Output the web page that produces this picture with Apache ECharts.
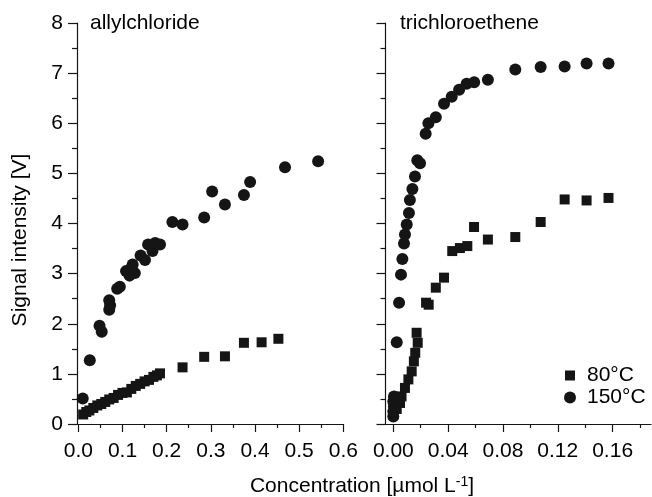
<!DOCTYPE html>
<html>
<head>
<meta charset="utf-8">
<script src="https://cdn.jsdelivr.net/npm/echarts@6/dist/echarts.min.js"></script>
<style>
  html, body { margin: 0; padding: 0; background: #fff; }
  #chart { width: 652px; height: 497px; }
</style>
</head>
<body>
<div id="chart"></div>
<script>
// allylchloride panel
var allyl80X = [0.011, 0.018, 0.025, 0.034, 0.043, 0.052, 0.061, 0.070, 0.080, 0.090, 0.100, 0.110, 0.120, 0.130, 0.140, 0.150, 0.160, 0.170, 0.178, 0.185, 0.236, 0.285, 0.332, 0.375, 0.415, 0.453];
var allyl80Y = [0.19, 0.24, 0.27, 0.32, 0.37, 0.40, 0.44, 0.49, 0.52, 0.58, 0.62, 0.63, 0.70, 0.76, 0.80, 0.85, 0.88, 0.94, 0.97, 1.01, 1.13, 1.34, 1.35, 1.62, 1.63, 1.70];
var allyl150X = [0.010, 0.026, 0.048, 0.053, 0.070, 0.072, 0.070, 0.088, 0.094, 0.108, 0.116, 0.120, 0.123, 0.128, 0.141, 0.151, 0.158, 0.168, 0.174, 0.185, 0.213, 0.236, 0.285, 0.303, 0.332, 0.375, 0.389, 0.468, 0.543];
var allyl150Y = [0.51, 1.27, 1.96, 1.84, 2.47, 2.37, 2.28, 2.70, 2.74, 3.05, 2.96, 3.10, 3.18, 3.01, 3.36, 3.27, 3.58, 3.45, 3.61, 3.58, 4.03, 3.98, 4.12, 4.64, 4.38, 4.57, 4.83, 5.12, 5.24];

// trichloroethene panel
var tce80X = [0.000, 0.0025, 0.0049, 0.006, 0.0085, 0.011, 0.0134, 0.015, 0.016, 0.0178, 0.017, 0.0239, 0.0258, 0.031, 0.037, 0.043, 0.0486, 0.054, 0.0589, 0.069, 0.089, 0.1075, 0.125, 0.141, 0.157];
var tce80Y = [0.19, 0.30, 0.42, 0.55, 0.72, 0.89, 1.05, 1.25, 1.42, 1.62, 1.82, 2.42, 2.38, 2.72, 2.92, 3.45, 3.51, 3.55, 3.93, 3.68, 3.73, 4.03, 4.48, 4.46, 4.51];
var tce150X = [0.000, 0.000, 0.0005, 0.000, 0.0005, 0.0025, 0.0042, 0.0056, 0.0066, 0.0078, 0.0085, 0.0098, 0.0114, 0.0121, 0.0139, 0.0158, 0.0175, 0.0195, 0.0236, 0.0256, 0.031, 0.037, 0.0426, 0.048, 0.0535, 0.059, 0.069, 0.089, 0.1075, 0.125, 0.141, 0.157];
var tce150Y = [0.15, 0.25, 0.35, 0.45, 0.55, 1.63, 2.42, 2.98, 3.29, 3.60, 3.78, 3.98, 4.21, 4.47, 4.69, 4.94, 5.26, 5.20, 5.79, 6.00, 6.12, 6.39, 6.53, 6.67, 6.79, 6.82, 6.87, 7.07, 7.12, 7.13, 7.19, 7.19];

// ticks
var leftMajor = [0, 0.1, 0.2, 0.3, 0.4, 0.5, 0.6];
var leftMajorLabels = ['0.0', '0.1', '0.2', '0.3', '0.4', '0.5', '0.6'];
var leftMinor = [0.05, 0.15, 0.25, 0.35, 0.45, 0.55];
var rightMajor = [0, 0.04, 0.08, 0.12, 0.16];
var rightMajorLabels = ['0.00', '0.04', '0.08', '0.12', '0.16'];
var rightMinor = [0.02, 0.06, 0.10, 0.14, 0.18];

var FONT = "'Liberation Sans', Arial, sans-serif";
var INK = '#151515';

function zip(xs, ys) {
    var out = [];
    for (var i = 0; i < xs.length; i++) out.push([xs[i], ys[i]]);
    return out;
}

function labelOf(values, labels) {
    return function (v) {
        for (var i = 0; i < values.length; i++) {
            if (Math.abs(values[i] - v) < 1e-9) return labels[i];
        }
        return '';
    };
}

var axisLineStyle = { color: INK, width: 1.2 };

function majorX(grid, min, max, ticks, labels) {
    return {
        type: 'value', gridIndex: grid, position: 'bottom', min: min, max: max,
        axisLine: { show: true, onZero: false, lineStyle: axisLineStyle },
        axisTick: { show: true, length: 8, customValues: ticks, lineStyle: axisLineStyle },
        axisLabel: {
            show: true, customValues: ticks, margin: 17,
            formatter: labelOf(ticks, labels),
            color: '#000', fontSize: 21, fontFamily: FONT
        },
        splitLine: { show: false }
    };
}

function minorX(grid, min, max, ticks) {
    return {
        type: 'value', gridIndex: grid, position: 'bottom', min: min, max: max,
        axisLine: { show: false, onZero: false },
        axisTick: { show: true, length: 4, customValues: ticks, lineStyle: axisLineStyle },
        axisLabel: { show: false },
        splitLine: { show: false }
    };
}

function yAx(grid, showLabels) {
    return {
        type: 'value', gridIndex: grid, min: 0, max: 8, interval: 1,
        axisLine: { show: true, onZero: false, lineStyle: axisLineStyle },
        axisTick: { show: true, length: 9, lineStyle: axisLineStyle },
        minorTick: { show: true, splitNumber: 2, length: 5, lineStyle: axisLineStyle },
        axisLabel: { show: showLabels, margin: 14, color: '#000', fontSize: 21, fontFamily: FONT },
        splitLine: { show: false }
    };
}

function scatter(name, xi, yi, symbol, size, data) {
    return {
        name: name, type: 'scatter', xAxisIndex: xi, yAxisIndex: yi,
        symbol: symbol, symbolSize: size,
        itemStyle: { color: INK, opacity: 1 },
        data: data
    };
}

var chart = echarts.init(document.getElementById('chart'));

var option = {
    animation: false,
    textStyle: { fontFamily: FONT },
    grid: [
        { left: 77, top: 23, width: 266.3, height: 401 },
        { left: 385.5, top: 23, width: 265.5, height: 401 }
    ],
    xAxis: [
        majorX(0, -0.003, 0.6, leftMajor, leftMajorLabels),
        minorX(0, -0.003, 0.6, leftMinor),
        majorX(1, -0.0057, 0.188, rightMajor, rightMajorLabels),
        minorX(1, -0.0057, 0.188, rightMinor)
    ],
    yAxis: [yAx(0, true), yAx(1, false)],
    legend: [
        {
            data: [{ name: '80°C', icon: 'rect' }],
            left: 565, top: 365, padding: 0, itemWidth: 10, itemHeight: 10,
            textStyle: { color: '#000', fontSize: 21, fontFamily: FONT, padding: [0, 0, 0, 7] }
        },
        {
            data: [{ name: '150°C', icon: 'circle' }],
            left: 564, top: 387, padding: 0, itemWidth: 12, itemHeight: 12,
            textStyle: { color: '#000', fontSize: 21, fontFamily: FONT, padding: [0, 0, 0, 6] }
        }
    ],
    graphic: [
        {
            type: 'text', left: 90, top: 13,
            style: { text: 'allylchloride', fill: '#000', fontSize: 21, fontFamily: FONT }
        },
        {
            type: 'text', left: 400, top: 13,
            style: { text: 'trichloroethene', fill: '#000', fontSize: 21, fontFamily: FONT }
        },
        {
            type: 'text', x: 20, y: 240, rotation: Math.PI / 2,
            style: {
                text: 'Signal intensity [V]', fill: '#000', fontSize: 21, fontFamily: FONT,
                align: 'center', verticalAlign: 'middle'
            }
        },
        {
            type: 'text', x: 362, y: 486,
            style: {
                text: '{a|Concentration [µmol L}{s|-1}{a|]}',
                align: 'center', verticalAlign: 'middle',
                rich: {
                    a: { fontSize: 21, fontFamily: FONT, fill: '#000', color: '#000' },
                    s: { fontSize: 14, fontFamily: FONT, fill: '#000', color: '#000', verticalAlign: 'top' }
                }
            }
        }
    ],
    series: [
        scatter('80°C', 0, 0, 'rect', 10, zip(allyl80X, allyl80Y)),
        scatter('150°C', 0, 0, 'circle', 12, zip(allyl150X, allyl150Y)),
        scatter('80°C', 2, 1, 'rect', 10, zip(tce80X, tce80Y)),
        scatter('150°C', 2, 1, 'circle', 12, zip(tce150X, tce150Y))
    ]
};

chart.setOption(option);
</script>
</body>
</html>
